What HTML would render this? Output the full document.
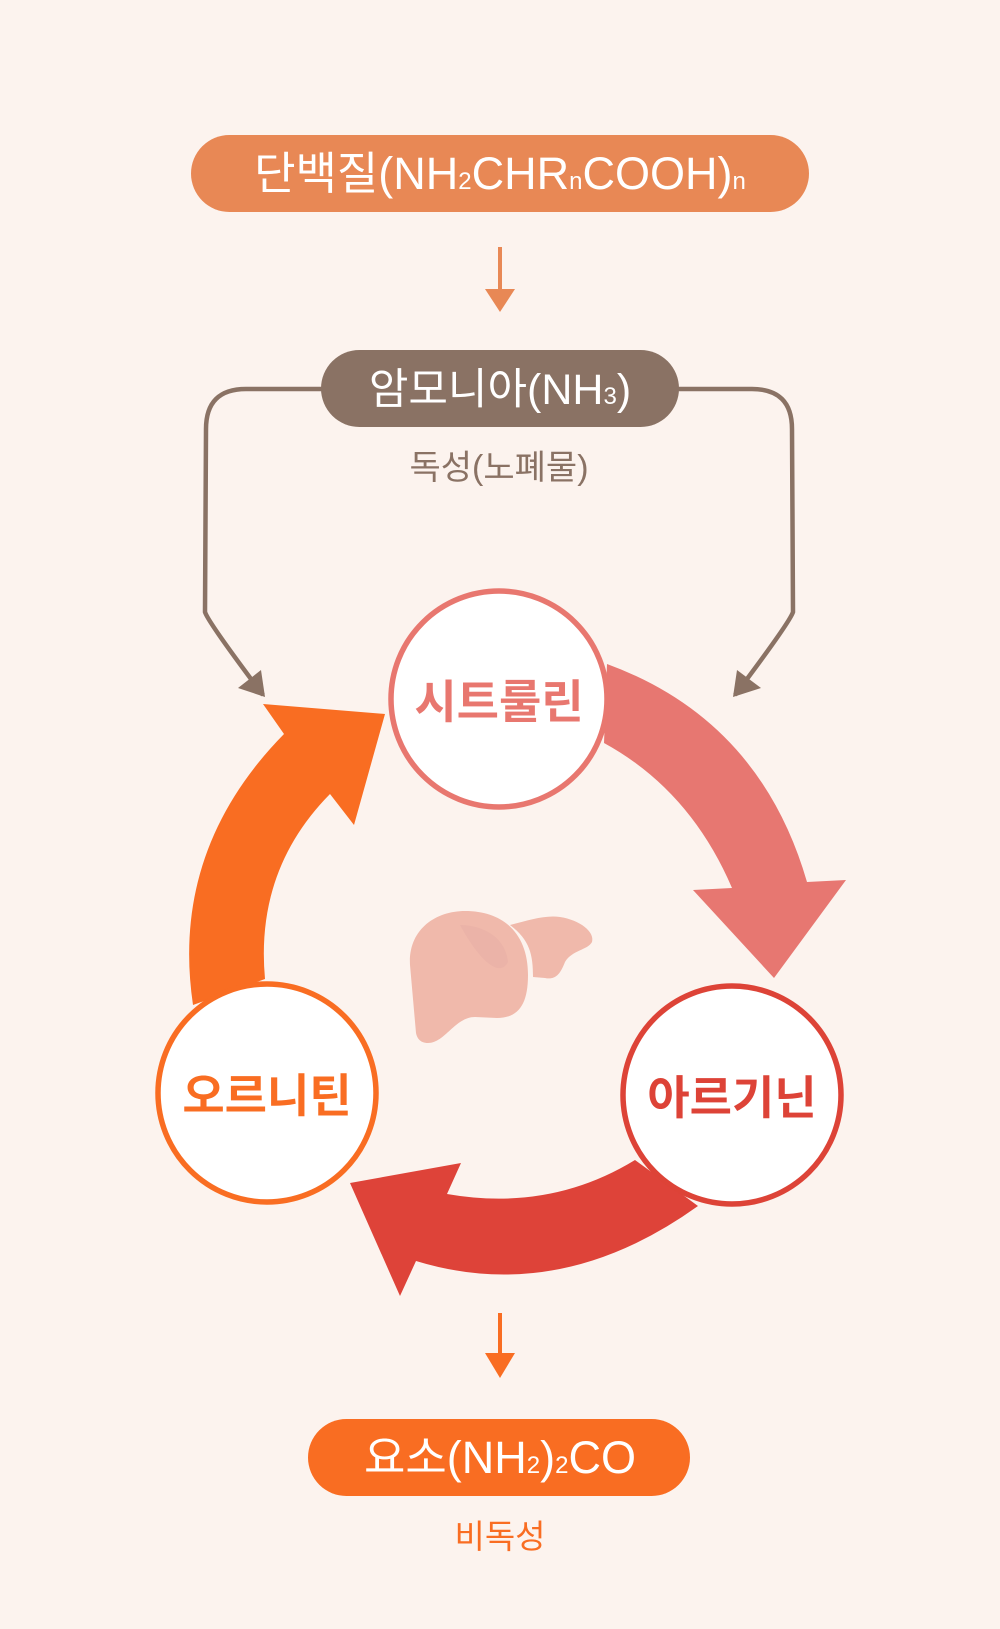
<!DOCTYPE html>
<html><head><meta charset="utf-8"><style>
html,body{margin:0;padding:0;background:#fcf3ee;}
svg{display:block}
text{font-family:"Liberation Sans","Noto Sans CJK KR",sans-serif;}
</style></head><body>
<svg width="1000" height="1629" viewBox="0 0 1000 1629">
<rect width="1000" height="1629" fill="#fcf3ee"/>
<!-- top pill -->
<rect x="191" y="135" width="618" height="77" rx="38.5" fill="#e88855"/>
<text x="500" y="189" text-anchor="middle" font-size="45" fill="#fff">단백질(NH<tspan font-size="24">2</tspan>CHR<tspan font-size="24">n</tspan>COOH)<tspan font-size="24">n</tspan></text>
<!-- arrow 1 -->
<line x1="500" y1="247" x2="500" y2="292" stroke="#e88855" stroke-width="4"/>
<polygon points="485,289 515,289 500,312" fill="#e88855"/>
<!-- brown connectors -->
<path d="M330,389 L246,389 Q206,389 206,429 L205,612 Q208,622 263,695" fill="none" stroke="#8a7264" stroke-width="4.5"/>
<polygon points="238,688 261,670 265,697" fill="#8a7264"/>
<path d="M670,389 L752,389 Q792,389 792,429 L793,612 Q790,622 735,695" fill="none" stroke="#8a7264" stroke-width="4.5"/>
<polygon points="737,670 761,688 733,697" fill="#8a7264"/>
<!-- brown pill -->
<rect x="321" y="350" width="358" height="77" rx="38.5" fill="#8a7264"/>
<text x="500" y="404" text-anchor="middle" font-size="43" fill="#fff">암모니아(NH<tspan font-size="24">3</tspan>)</text>
<text x="499" y="479" text-anchor="middle" font-size="34" fill="#8a7264">독성(노폐물)</text>
<!-- cycle arrows -->
<path d="M607,664 Q760,720 807,882 L846,880 L774,978 L693,890 L732,888 Q690,790 604,743 Z" fill="#e77771"/>
<path d="M193,1005 Q170,850 284,734 L263,704 L385,714 L354,825 L330,794 Q255,870 265,979 Z" fill="#f96d22"/>
<path d="M698,1206 Q560,1305 416,1261 L400,1296 L350,1183 L461,1163 L447,1194 Q550,1212 635,1160 Z" fill="#de4339"/>
<!-- liver -->
<path d="M410,965 C408,930 435,911 465,911 C505,911 528,935 528,975 C528,1005 518,1018 497,1018 L475,1017 C455,1017 445,1043 428,1043 C420,1043 417,1038 416,1033 Z" fill="#f0b9ab"/>
<path d="M510,925 C530,920 545,915 560,917 C580,920 595,932 592,942 C588,950 572,950 565,962 C560,975 555,980 545,978 L533,977 C533,955 530,940 510,925 Z" fill="#f0b9ab"/>
<path d="M460,925 C480,925 505,935 508,962 C500,978 480,962 460,925 Z" fill="#ebb3a8"/>
<!-- circles -->
<circle cx="499" cy="699" r="108" fill="#fff" stroke="#e8776f" stroke-width="5.5"/>
<text x="499" y="718" text-anchor="middle" font-size="46" font-weight="700" fill="#e8776f">시트룰린</text>
<circle cx="267" cy="1093" r="109" fill="#fff" stroke="#f96d22" stroke-width="5.5"/>
<text x="267" y="1112" text-anchor="middle" font-size="46" font-weight="700" fill="#f96d22">오르니틴</text>
<circle cx="732" cy="1095" r="109" fill="#fff" stroke="#dd4337" stroke-width="5.5"/>
<text x="732" y="1114" text-anchor="middle" font-size="46" font-weight="700" fill="#dd4337">아르기닌</text>
<!-- arrow 2 -->
<line x1="500" y1="1313" x2="500" y2="1356" stroke="#f96d22" stroke-width="4"/>
<polygon points="485,1353 515,1353 500,1378" fill="#f96d22"/>
<!-- urea pill -->
<rect x="308" y="1419" width="382" height="77" rx="38.5" fill="#f96d22"/>
<text x="500" y="1473" text-anchor="middle" font-size="45" fill="#fff">요소(NH<tspan font-size="24">2</tspan>)<tspan font-size="24">2</tspan>CO</text>
<text x="500" y="1548" text-anchor="middle" font-size="33" fill="#f96d22">비독성</text>
</svg>
</body></html>
